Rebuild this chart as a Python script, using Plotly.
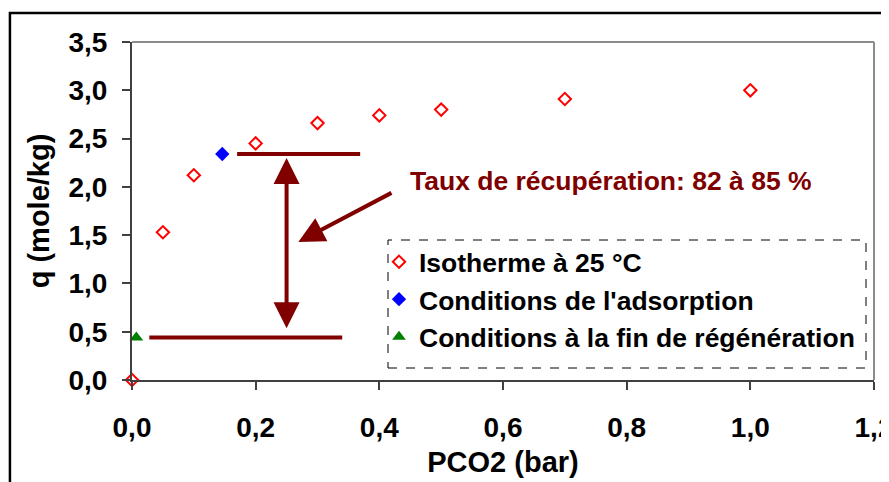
import plotly.graph_objects as go

# Data
iso_x = [0.0, 0.05, 0.1, 0.2, 0.3, 0.4, 0.5, 0.7, 1.0]
iso_y = [0.0, 1.53, 2.12, 2.45, 2.66, 2.74, 2.80, 2.91, 3.0]
ads_x = [0.146]
ads_y = [2.34]
reg_x = [0.007]
reg_y = [0.44]

x_ticks = [0.0, 0.2, 0.4, 0.6, 0.8, 1.0, 1.2]
x_ticklabels = ["0,0", "0,2", "0,4", "0,6", "0,8", "1,0", "1,2"]
y_ticks = [0.0, 0.5, 1.0, 1.5, 2.0, 2.5, 3.0, 3.5]
y_ticklabels = ["0,0", "0,5", "1,0", "1,5", "2,0", "2,5", "3,0", "3,5"]

annot_text = "Taux de récupération: 82 à 85 %"
upper_line = dict(x0=0.17, x1=0.369, y=2.34)
lower_line = dict(x0=0.028, x1=0.34, y=0.44)
arrow_x = 0.25

DARK_RED = "#800000"
FONT = "Liberation Sans, Arial, sans-serif"

# page body adds an 8px margin; figure sized so the window shows the same layout
W, H = 881, 474

fig = go.Figure()
fig.add_trace(go.Scatter(
    x=iso_x, y=iso_y, mode="markers", name="Isotherme à 25 °C",
    marker=dict(symbol="diamond-open", size=9.5, color="#ff0000", line=dict(width=2, color="#ff0000")),
    cliponaxis=False, legendgroup="a"))
fig.add_trace(go.Scatter(
    x=ads_x, y=ads_y, mode="markers", name="Conditions de l'adsorption",
    marker=dict(symbol="diamond", size=11, color="#0000ff"),
    cliponaxis=False, legendgroup="b"))
fig.add_trace(go.Scatter(
    x=reg_x, y=reg_y, mode="markers", name="Conditions à la fin de régénération",
    marker=dict(symbol="triangle-up", size=12, color="#008000"),
    cliponaxis=False, legendgroup="c"))

shapes = [
    # outer frame
    dict(type="rect", xref="paper", yref="paper", x0=-0.1645, x1=1.05, y0=-0.5, y1=1.086,
         line=dict(color="black", width=2.5), layer="below"),
    # top/right plot border
    dict(type="line", xref="paper", yref="paper", x0=0, x1=1, y0=1, y1=1, line=dict(color="#8c8c8c", width=2)),
    dict(type="line", xref="paper", yref="paper", x0=1, x1=1, y0=0, y1=1, line=dict(color="#8c8c8c", width=2)),
    # horizontal annotation lines
    dict(type="line", xref="x", yref="y", x0=upper_line["x0"], x1=upper_line["x1"],
         y0=upper_line["y"], y1=upper_line["y"], line=dict(color=DARK_RED, width=4)),
    dict(type="line", xref="x", yref="y", x0=lower_line["x0"], x1=lower_line["x1"],
         y0=lower_line["y"], y1=lower_line["y"], line=dict(color=DARK_RED, width=4)),
    # dashed legend box
    dict(type="rect", xref="paper", yref="paper",
         x0=(388 - 132) / 742, x1=(866 - 132) / 742, y0=(380 - 368) / 338, y1=(380 - 240) / 338,
         line=dict(color="black", width=1, dash="dash")),
]

annotations = [
    # double arrow
    dict(x=arrow_x, y=2.30, ax=arrow_x, ay=0.52, xref="x", yref="y", axref="x", ayref="y",
         text="", showarrow=True, arrowhead=2, startarrowhead=2, arrowside="end+start",
         arrowsize=1.3, startarrowsize=1.3, arrowwidth=4, arrowcolor=DARK_RED),
    # diagonal arrow
    dict(x=0.269, y=1.43, ax=0.422, ay=1.946, xref="x", yref="y", axref="x", ayref="y",
         text="", showarrow=True, arrowhead=2, arrowsize=1.3, arrowwidth=4, arrowcolor=DARK_RED),
    # text
    dict(x=(408 - 132) / 618, y=(380 - 181) / 96.6, xref="x", yref="y", text=annot_text, showarrow=False,
         xanchor="left", yanchor="middle",
         font=dict(family=FONT, size=26.5, color=DARK_RED, weight="bold")),
]

fig.update_layout(
    width=W, height=H,
    margin=dict(l=124, r=15, t=34, b=102),
    paper_bgcolor="white", plot_bgcolor="white",
    font=dict(family=FONT, size=22, color="black", weight="bold"),
    showlegend=True,
    legend=dict(x=(379 - 132) / 742, y=(380 - 238) / 338, xanchor="left", yanchor="top",
                bgcolor="rgba(0,0,0,0)", borderwidth=0,
                font=dict(family=FONT, size=26.5, color="black", weight="bold"),
                traceorder="grouped", tracegroupgap=0),
    xaxis=dict(range=[0, 1.2], tickvals=x_ticks, ticktext=x_ticklabels, automargin=False,
               showline=True, linecolor="#404040", linewidth=2, ticks="outside",
               ticklen=8, tickcolor="#404040", tickwidth=1.5, showgrid=False, zeroline=False,
               ticklabelstandoff=13, ticklabeloverflow="allow",
               tickfont=dict(family=FONT, size=28, color="black", weight="bold"),
               title=dict(text="PCO2 (bar)", standoff=10,
                          font=dict(family=FONT, size=29, color="black", weight="bold"))),
    yaxis=dict(range=[0, 3.5], tickvals=y_ticks, ticktext=y_ticklabels, automargin=False,
               showline=True, linecolor="#404040", linewidth=2, ticks="outside",
               ticklen=8, tickcolor="#404040", tickwidth=1.5, showgrid=False, zeroline=False,
               ticklabelstandoff=9, ticklabeloverflow="allow",
               tickfont=dict(family=FONT, size=28, color="black", weight="bold"),
               title=dict(text="q (mole/kg)", standoff=10,
                          font=dict(family=FONT, size=29, color="black", weight="bold"))),
    shapes=shapes, annotations=annotations,
)

fig.write_html("out.html")
